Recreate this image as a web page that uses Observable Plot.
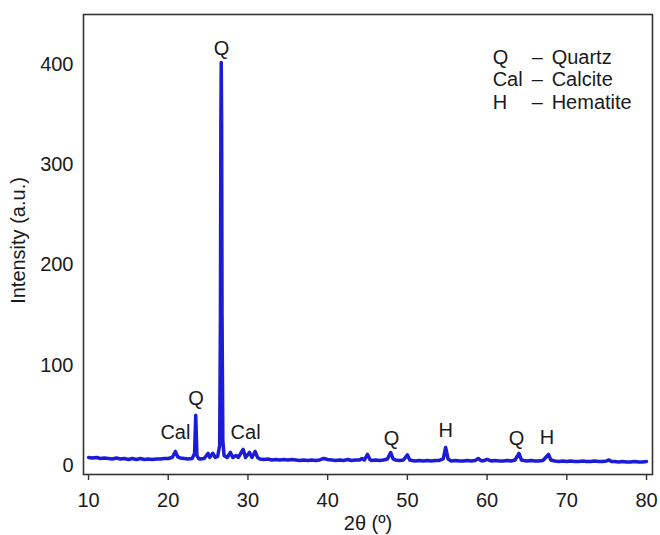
<!DOCTYPE html>
<html>
<head>
<meta charset="utf-8">
<script src="https://cdn.jsdelivr.net/npm/d3@7"></script>
<script src="https://cdn.jsdelivr.net/npm/@observablehq/plot@0.6"></script>
<style>
  html, body { margin: 0; padding: 0; background: #fff; }
  #chart { width: 660px; height: 535px; }
</style>
</head>
<body>
<div id="chart"></div>
<script>
// 2θ (degrees) and intensity (a.u.)
const twoTheta = [
  10.0,10.5,11.0,11.5,12.0,12.5,13.0,13.5,14.0,14.5,15.0,15.5,16.0,16.5,17.0,17.5,18.0,18.5,19.0,19.5,
  20.0,20.5,20.9,21.2,21.5,22.0,22.5,23.0,23.3,23.45,23.6,23.8,24.0,24.5,25.0,25.2,25.6,25.9,26.2,26.45,
  26.55,26.6,26.65,26.7,26.75,26.85,27.0,27.4,27.8,28.1,28.5,28.8,29.4,29.7,30.2,30.5,30.9,31.2,31.5,32.0,
  32.5,33.0,33.5,34.0,34.5,35.0,35.5,36.0,36.5,37.0,37.5,38.0,38.5,39.0,39.5,40.0,40.5,41.0,41.5,42.0,
  42.5,43.0,43.5,44.0,44.3,44.6,45.0,45.3,45.5,46.0,46.5,47.0,47.5,47.9,48.2,48.5,49.0,49.5,50.0,50.3,
  50.6,51.0,51.5,52.0,52.5,53.0,53.5,54.0,54.5,54.8,55.1,55.5,56.0,56.5,57.0,57.5,58.0,58.5,58.9,59.2,
  59.5,60.0,60.5,61.0,61.5,62.0,62.5,63.0,63.5,64.0,64.3,64.6,65.0,65.5,66.0,66.5,67.0,67.7,68.0,68.5,
  69.0,69.5,70.0,70.5,71.0,71.5,72.0,72.5,73.0,73.5,74.0,74.5,75.0,75.3,75.6,76.0,76.5,77.0,77.5,78.0,
  78.5,79.0,79.5,80.0
];
const intensity = [
  8,7.5,8,7,7.5,7,6.5,7.5,6.5,7,6,7,6,7,6,6.5,6,6.5,6.5,7,
  7,8,14,8.5,7.5,7,6.5,7,12,50,10,7,6.5,7,12,8,12,8,9,20,
  150,340,402,340,150,25,10,8,13,8,10,8,16,8,13,8,14,8,6.5,6,
  6.5,5.5,6,5.5,6,5.5,6,5.5,5,5.5,5,5.5,5,5.5,7,6,5.5,5,5.5,5,
  6,5,5.5,5.5,7,5.5,11,6,5,5.5,5,5.5,6.5,13,6.5,5.5,5,5.5,10.5,5.5,
  5,4.5,5,4.5,5,4.5,5,5,6.5,18,6.5,4.5,5,4.5,4.5,5,4.5,5,7,5,
  4.5,6,4.5,5,4.5,4.5,5,4.5,5.5,12,5.5,5,4.5,5,4.5,4.5,5,11,5.5,4.5,
  4,4.5,4,4.5,4,4,4.5,4,4,4.5,4,4,4.5,5.5,4,4,3.5,4,3.5,3.5,
  4,3.5,3.5,4
];
const pattern = twoTheta.map((x, i) => ({x, y: intensity[i]}));

// Phase labels over the peaks
const peakLabel = ["Cal", "Q", "Q", "Cal", "Q", "H", "Q", "H"];
const peakX     = [20.9, 23.5, 26.7, 29.7, 48.0, 54.8, 63.7, 67.5];
const peakY     = [33, 67, 416, 33, 27, 35, 27, 28];
const peaks = peakLabel.map((t, i) => ({t, x: peakX[i], y: peakY[i]}));

// Key
const keyAbbr = ["Q", "Cal", "H"];
const keyName = ["Quartz", "Calcite", "Hematite"];
const keyY    = [407, 385, 362];
const key = keyAbbr.map((a, i) => ({a, n: keyName[i], y: keyY[i]}));

const xTicks = [10, 20, 30, 40, 50, 60, 70, 80];
const yTicks = [0, 100, 200, 300, 400];
const xTitle = "2θ (º)";
const yTitle = "Intensity (a.u.)";

const font = "'Liberation Sans', Arial, Helvetica, sans-serif";
const ink = "#1a1a1a";
const chart = Plot.plot({
  width: 660,
  height: 535,
  marginLeft: 83,
  marginRight: 8,
  marginTop: 14,
  marginBottom: 61,
  style: {fontFamily: font, fontSize: "20px", color: ink, background: "#fff"},
  x: {domain: [9.37, 80.75]},
  y: {domain: [-9, 450]},
  marks: [
    Plot.line(pattern, {x: "x", y: "y", stroke: "#1c1cd6", strokeWidth: 3.5, strokeLinejoin: "round"}),
    Plot.frame({stroke: "#333", strokeWidth: 1.6}),
    Plot.axisX({ticks: xTicks, tickSize: 6, tickPadding: 12, fontSize: 20, stroke: "#333", strokeWidth: 1.4, label: null}),
    Plot.axisY({ticks: yTicks, tickSize: 0, tickPadding: 10, fontSize: 20, label: null}),
    Plot.text([xTitle], {frameAnchor: "bottom", dy: 55, text: d => d, fontSize: 20, fill: ink}),
    Plot.text([yTitle], {frameAnchor: "left", textAnchor: "middle", dx: -65, dy: -4, rotate: -90, text: d => d, fontSize: 20, fill: ink}),
    Plot.text(peaks, {x: "x", y: "y", text: "t", fontSize: 20, fill: ink}),
    Plot.text(key, {x: 60.7, y: "y", text: "a", textAnchor: "start", fontSize: 20, fill: ink}),
    Plot.text(key, {x: 66.3, y: "y", text: () => "–", fontSize: 20, fill: ink}),
    Plot.text(key, {x: 68.1, y: "y", text: "n", textAnchor: "start", fontSize: 20, fill: ink})
  ]
});
document.getElementById("chart").appendChild(chart);
</script>
</body>
</html>
